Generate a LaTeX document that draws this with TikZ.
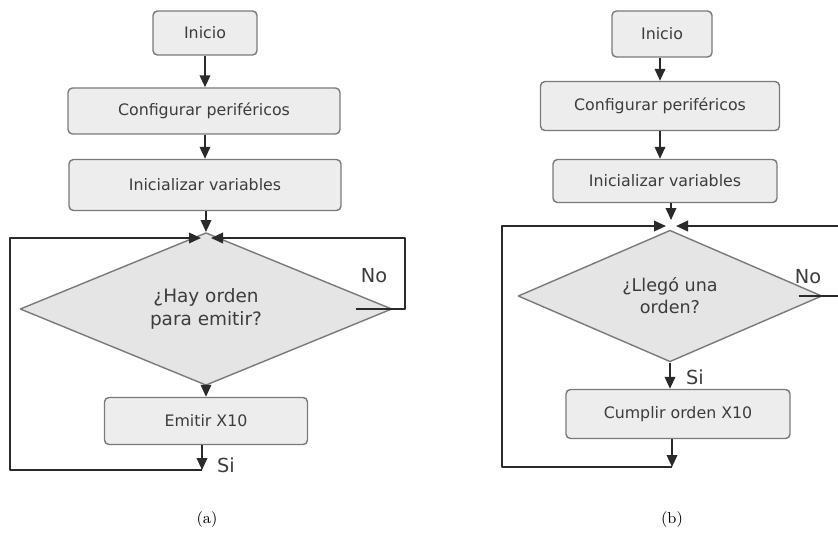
\documentclass[tikz,border=0pt]{standalone}
\usepackage{fontspec}
\newfontfamily\flowfont{DejaVu Sans}
\usetikzlibrary{shapes.geometric,arrows.meta}
\definecolor{boxfill}{HTML}{EDEDED}
\definecolor{boxline}{HTML}{7A7A7A}
\definecolor{decfill}{HTML}{E5E5E5}
\definecolor{txtgray}{HTML}{3C3C3C}
\definecolor{linegray}{HTML}{2A2A2A}
\begin{document}
\begin{tikzpicture}[x=0.02cm, y=-0.02cm, line join=round,
		procbox/.style={rectangle, rounded corners=2.5pt, draw=boxline, line width=0.8pt,
			fill=boxfill, text=txtgray, font=\flowfont\fontsize{9}{11}\selectfont, inner sep=2pt},
		decbox/.style={diamond, draw=boxline, line width=0.8pt, fill=decfill, text=txtgray,
			align=center, inner sep=0pt, font=\flowfont\fontsize{10.5}{13}\selectfont},
		flow/.style={draw=linegray, line width=1.1pt, -{Triangle[length=2.4mm,width=2.1mm]}},
		answer/.style={text=txtgray, font=\flowfont\fontsize{11}{13}\selectfont},
		caption/.style={font=\fontsize{9}{11}\selectfont}]
	% Page size of the reference
	\useasboundingbox (0,0) rectangle (838,532);
	
	% (a) Emisor
	\node[procbox, minimum width=2.08cm, minimum height=0.88cm] (ini_a) at (205,33) {Inicio};
	\node[procbox, minimum width=5.44cm, minimum height=0.92cm] (conf_a) at (204,111) {Configurar periféricos};
	\node[procbox, minimum width=5.44cm, minimum height=1.02cm] (init_a) at (205,185) {Inicializar variables};
	\node[decbox, minimum width=7.44cm, minimum height=2.56cm] (dec_a) at (206,309) {¿Hay orden\\para emitir?};
	\node[procbox, minimum width=4.06cm, minimum height=0.94cm] (emit_a) at (206,421) {Emitir X10};
	\coordinate (jun_a) at (206,238);
	\coordinate (sa) at (202,470);
	\coordinate (lta) at (10,238);
	\coordinate (rta) at (405,238);
	
	\draw[flow] (ini_a.south) -- (ini_a.south |- conf_a.north);
	\draw[flow] (conf_a.south -| ini_a) -- (ini_a |- init_a.north);
	\draw[flow] (init_a.south -| jun_a) -- ([yshift=0.12cm]jun_a);
	\draw[flow] (dec_a.south) -- (dec_a.south |- emit_a.north);
	\draw[flow] (emit_a.south -| sa) -- (sa);
	\draw[flow] (sa) -| (lta) -- ([xshift=-0.1cm]jun_a);
	\draw[flow] ([xshift=-0.74cm]dec_a.east) -| (rta) -- ([xshift=0.1cm]jun_a);
	
	\node[answer] (no_a) at (374,276) {No};
	\node[answer] (si_a) at (226,465) {Si};
	\node[caption] (cap_a) at (207,520) {(a)};
	
	% (b) Receptor
	\node[procbox, minimum width=2.0cm, minimum height=0.92cm] (ini_b) at (662,34) {Inicio};
	\node[procbox, minimum width=4.78cm, minimum height=0.98cm] (conf_b) at (660,106) {Configurar periféricos};
	\node[procbox, minimum width=4.48cm, minimum height=0.86cm] (init_b) at (665,181) {Inicializar variables};
	\node[decbox, minimum width=6.08cm, minimum height=2.48cm, font=\flowfont\fontsize{10}{12.5}\selectfont] (dec_b) at (670,296) {¿Llegó una\\orden?};
	\node[procbox, minimum width=4.48cm, minimum height=0.98cm] (cump_b) at (678,414) {Cumplir orden X10};
	\coordinate (jun_b) at (671,226);
	\coordinate (sb) at (672,467);
	\coordinate (ltb) at (502,226);
	\coordinate (rtb) at (850,226);
	
	\draw[flow] (ini_b.south -| conf_b) -- (conf_b.north);
	\draw[flow] (conf_b.south) -- (conf_b.south |- init_b.north);
	\draw[flow] (init_b.south -| jun_b) -- ([yshift=0.12cm]jun_b);
	\draw[flow] (dec_b.south) -- (dec_b.south |- cump_b.north);
	\draw[flow] (cump_b.south -| sb) -- (sb);
	\draw[flow] (sb) -| (ltb) -- ([xshift=-0.1cm]jun_b);
	\draw[flow] ([xshift=-0.48cm]dec_b.east) -| (rtb) -- ([xshift=0.1cm]jun_b);
	
	\node[answer] (no_b) at (808,277) {No};
	\node[answer] (si_b) at (695,377) {Si};
	\node[caption] (cap_b) at (672,520) {(b)};
\end{tikzpicture}
\end{document}
